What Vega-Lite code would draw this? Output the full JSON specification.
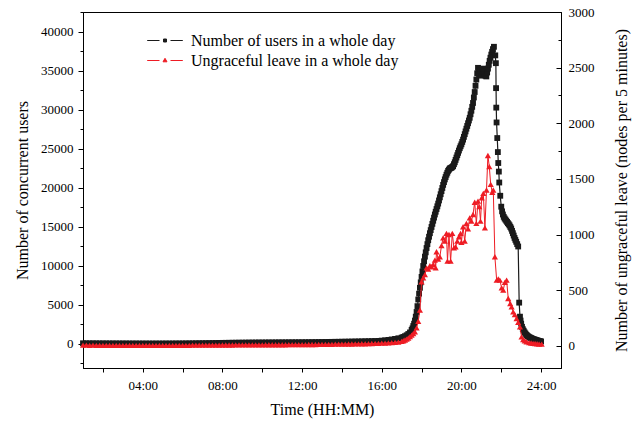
{
"$schema": "https://vega.github.io/schema/vega-lite/v6.json",
"width": 478, "height": 356,
"autosize": {"type": "none"},
"padding": {"left": 83, "top": 12, "right": 76, "bottom": 55},
"background": "white",
"config": {
  "view": {"stroke": "black", "strokeWidth": 1},
  "font": "Liberation Serif",
  "axis": {"labelFont": "Liberation Serif", "titleFont": "Liberation Serif", "labelFontSize": 13, "titleFontSize": 16, "titleFontWeight": "normal", "labelColor": "black", "titleColor": "black", "domainColor": "black", "tickColor": "black", "grid": false, "labelOverlap": false, "labelFlush": false}
},
"datasets": {
"users": [
{"t":1.0,"v":90},{"t":1.167,"v":88},{"t":1.333,"v":85},{"t":1.5,"v":84},{"t":1.667,"v":82},{"t":1.833,"v":80},
{"t":2.0,"v":78},{"t":2.167,"v":76},{"t":2.333,"v":75},{"t":2.5,"v":74},{"t":2.667,"v":72},{"t":2.833,"v":70},
{"t":3.0,"v":70},{"t":3.167,"v":68},{"t":3.333,"v":66},{"t":3.5,"v":65},{"t":3.667,"v":64},{"t":3.833,"v":62},
{"t":4.0,"v":62},{"t":4.167,"v":60},{"t":4.333,"v":60},{"t":4.5,"v":60},{"t":4.667,"v":60},{"t":4.833,"v":60},
{"t":5.0,"v":62},{"t":5.167,"v":63},{"t":5.333,"v":64},{"t":5.5,"v":66},{"t":5.667,"v":68},{"t":5.833,"v":70},
{"t":6.0,"v":72},{"t":6.167,"v":75},{"t":6.333,"v":80},{"t":6.5,"v":85},{"t":6.667,"v":90},{"t":6.833,"v":95},
{"t":7.0,"v":100},{"t":7.167,"v":105},{"t":7.333,"v":110},{"t":7.5,"v":118},{"t":7.667,"v":125},{"t":7.833,"v":132},
{"t":8.0,"v":140},{"t":8.167,"v":146},{"t":8.333,"v":152},{"t":8.5,"v":158},{"t":8.667,"v":163},{"t":8.833,"v":168},
{"t":9.0,"v":172},{"t":9.167,"v":176},{"t":9.333,"v":180},{"t":9.5,"v":184},{"t":9.667,"v":188},{"t":9.833,"v":190},
{"t":10.0,"v":192},{"t":10.167,"v":195},{"t":10.333,"v":198},{"t":10.5,"v":200},{"t":10.667,"v":203},{"t":10.833,"v":206},
{"t":11.0,"v":208},{"t":11.167,"v":210},{"t":11.333,"v":213},{"t":11.5,"v":216},{"t":11.667,"v":218},{"t":11.833,"v":220},
{"t":12.0,"v":222},{"t":12.167,"v":226},{"t":12.333,"v":230},{"t":12.5,"v":235},{"t":12.667,"v":240},{"t":12.833,"v":246},
{"t":13.0,"v":252},{"t":13.167,"v":258},{"t":13.333,"v":264},{"t":13.5,"v":270},{"t":13.667,"v":276},{"t":13.833,"v":282},
{"t":14.0,"v":290},{"t":14.167,"v":296},{"t":14.333,"v":303},{"t":14.5,"v":310},{"t":14.667,"v":318},{"t":14.833,"v":326},
{"t":15.0,"v":335},{"t":15.167,"v":345},{"t":15.333,"v":355},{"t":15.5,"v":366},{"t":15.667,"v":378},{"t":15.833,"v":392},
{"t":16.0,"v":430},{"t":16.167,"v":470},{"t":16.333,"v":520},{"t":16.5,"v":580},{"t":16.667,"v":650},{"t":16.833,"v":730},
{"t":17.0,"v":820},{"t":17.083,"v":900},{"t":17.167,"v":1000},{"t":17.25,"v":1120},{"t":17.333,"v":1280},{"t":17.417,"v":1480},
{"t":17.5,"v":1800},{"t":17.542,"v":2000},{"t":17.583,"v":2300},{"t":17.625,"v":2600},{"t":17.667,"v":3000},{"t":17.708,"v":3500},
{"t":17.75,"v":4100},{"t":17.792,"v":4850},{"t":17.833,"v":5700},{"t":17.875,"v":6450},{"t":17.917,"v":7200},{"t":17.958,"v":7900},
{"t":18.0,"v":8600},{"t":18.042,"v":9300},{"t":18.083,"v":10000},{"t":18.125,"v":10600},{"t":18.167,"v":11200},{"t":18.208,"v":11750},
{"t":18.25,"v":12300},{"t":18.292,"v":12800},{"t":18.333,"v":13300},{"t":18.375,"v":13750},{"t":18.417,"v":14200},{"t":18.458,"v":14600},
{"t":18.5,"v":15000},{"t":18.542,"v":15400},{"t":18.583,"v":15800},{"t":18.625,"v":16200},{"t":18.667,"v":16600},{"t":18.708,"v":16950},
{"t":18.75,"v":17300},{"t":18.792,"v":17650},{"t":18.833,"v":18000},{"t":18.875,"v":18400},{"t":18.917,"v":18800},{"t":18.958,"v":19200},
{"t":19.0,"v":19600},{"t":19.042,"v":20000},{"t":19.083,"v":20400},{"t":19.125,"v":20750},{"t":19.167,"v":21100},{"t":19.208,"v":21400},
{"t":19.25,"v":21700},{"t":19.292,"v":21950},{"t":19.333,"v":22200},{"t":19.375,"v":22350},{"t":19.417,"v":22500},{"t":19.458,"v":22550},
{"t":19.5,"v":22600},{"t":19.542,"v":22700},{"t":19.583,"v":22800},{"t":19.625,"v":23050},{"t":19.667,"v":23300},{"t":19.708,"v":23600},
{"t":19.75,"v":23900},{"t":19.792,"v":24200},{"t":19.833,"v":24500},{"t":19.875,"v":24800},{"t":19.917,"v":25100},{"t":19.958,"v":25350},
{"t":20.0,"v":25600},{"t":20.042,"v":25900},{"t":20.083,"v":26200},{"t":20.125,"v":26550},{"t":20.167,"v":26900},{"t":20.208,"v":27250},
{"t":20.25,"v":27600},{"t":20.292,"v":27950},{"t":20.333,"v":28300},{"t":20.375,"v":28650},{"t":20.417,"v":29000},{"t":20.458,"v":29450},
{"t":20.5,"v":29900},{"t":20.542,"v":30400},{"t":20.583,"v":30900},{"t":20.625,"v":31600},{"t":20.667,"v":32300},{"t":20.708,"v":33100},
{"t":20.75,"v":33900},{"t":20.792,"v":34700},{"t":20.833,"v":35400},{"t":20.875,"v":35000},{"t":20.917,"v":34600},
{"t":20.958,"v":35100},{"t":21.0,"v":34400},{"t":21.042,"v":34800},{"t":21.083,"v":35300},{"t":21.125,"v":34900},{"t":21.167,"v":34600},
{"t":21.208,"v":34400},{"t":21.25,"v":34300},{"t":21.292,"v":34800},{"t":21.333,"v":35300},{"t":21.375,"v":35800},
{"t":21.417,"v":36300},{"t":21.458,"v":36700},{"t":21.5,"v":37100},{"t":21.542,"v":37450},{"t":21.583,"v":37800},{"t":21.633,"v":38100},
{"t":21.7,"v":37000},{"t":21.73,"v":36000},
{"t":21.74,"v":32800},{"t":21.75,"v":30300},{"t":21.765,"v":28400},{"t":21.8,"v":26400},{"t":21.83,"v":24600},{"t":21.85,"v":23200},
{"t":21.88,"v":22100},{"t":21.9,"v":20700},{"t":21.95,"v":19000},{"t":22.0,"v":17600},{"t":22.042,"v":17000},{"t":22.083,"v":16600},
{"t":22.125,"v":16300},{"t":22.167,"v":16100},{"t":22.208,"v":15950},{"t":22.25,"v":15800},{"t":22.292,"v":15650},{"t":22.333,"v":15500},
{"t":22.375,"v":15350},{"t":22.417,"v":15200},{"t":22.458,"v":15000},{"t":22.5,"v":14800},{"t":22.542,"v":14500},{"t":22.583,"v":14200},
{"t":22.625,"v":13900},{"t":22.667,"v":13600},{"t":22.708,"v":13350},{"t":22.75,"v":13100},{"t":22.8,"v":12800},{"t":22.85,"v":12500},
{"t":22.9,"v":5300},{"t":22.94,"v":3500},{"t":22.97,"v":3000},{"t":23.0,"v":2600},{"t":23.042,"v":2200},{"t":23.083,"v":1900},
{"t":23.125,"v":1700},{"t":23.167,"v":1500},{"t":23.208,"v":1350},{"t":23.25,"v":1200},{"t":23.292,"v":1100},{"t":23.333,"v":1000},
{"t":23.375,"v":920},{"t":23.417,"v":850},{"t":23.458,"v":800},{"t":23.5,"v":750},{"t":23.542,"v":700},{"t":23.583,"v":650},{"t":23.625,"v":610},{"t":23.667,"v":570},{"t":23.708,"v":535},{"t":23.75,"v":500},
{"t":23.792,"v":465},{"t":23.833,"v":430},{"t":23.875,"v":400},{"t":23.917,"v":370},{"t":23.958,"v":345},{"t":24.0,"v":320}
],
"leave": [
{"t":1.0,"v":5},{"t":1.167,"v":5},{"t":1.333,"v":4},{"t":1.5,"v":5},{"t":1.667,"v":4},{"t":1.833,"v":4},
{"t":2.0,"v":4},{"t":2.167,"v":4},{"t":2.333,"v":4},{"t":2.5,"v":3},{"t":2.667,"v":4},{"t":2.833,"v":3},
{"t":3.0,"v":3},{"t":3.167,"v":3},{"t":3.333,"v":3},{"t":3.5,"v":3},{"t":3.667,"v":3},{"t":3.833,"v":3},
{"t":4.0,"v":3},{"t":4.167,"v":3},{"t":4.333,"v":3},{"t":4.5,"v":3},{"t":4.667,"v":3},{"t":4.833,"v":3},
{"t":5.0,"v":3},{"t":5.167,"v":3},{"t":5.333,"v":3},{"t":5.5,"v":3},{"t":5.667,"v":4},{"t":5.833,"v":4},
{"t":6.0,"v":4},{"t":6.167,"v":4},{"t":6.333,"v":4},{"t":6.5,"v":5},{"t":6.667,"v":5},{"t":6.833,"v":5},
{"t":7.0,"v":5},{"t":7.167,"v":5},{"t":7.333,"v":6},{"t":7.5,"v":6},{"t":7.667,"v":6},{"t":7.833,"v":6},
{"t":8.0,"v":7},{"t":8.167,"v":7},{"t":8.333,"v":7},{"t":8.5,"v":7},{"t":8.667,"v":8},{"t":8.833,"v":8},
{"t":9.0,"v":8},{"t":9.167,"v":8},{"t":9.333,"v":8},{"t":9.5,"v":8},{"t":9.667,"v":8},{"t":9.833,"v":8},
{"t":10.0,"v":8},{"t":10.167,"v":9},{"t":10.333,"v":9},{"t":10.5,"v":9},{"t":10.667,"v":9},{"t":10.833,"v":9},
{"t":11.0,"v":9},{"t":11.167,"v":9},{"t":11.333,"v":10},{"t":11.5,"v":10},{"t":11.667,"v":10},{"t":11.833,"v":10},
{"t":12.0,"v":10},{"t":12.167,"v":10},{"t":12.333,"v":11},{"t":12.5,"v":11},{"t":12.667,"v":11},{"t":12.833,"v":12},
{"t":13.0,"v":12},{"t":13.167,"v":12},{"t":13.333,"v":13},{"t":13.5,"v":13},{"t":13.667,"v":14},{"t":13.833,"v":14},
{"t":14.0,"v":15},{"t":14.167,"v":15},{"t":14.333,"v":16},{"t":14.5,"v":16},{"t":14.667,"v":17},{"t":14.833,"v":17},
{"t":15.0,"v":18},{"t":15.167,"v":18},{"t":15.333,"v":19},{"t":15.5,"v":20},{"t":15.667,"v":21},{"t":15.833,"v":22},
{"t":16.0,"v":23},{"t":16.167,"v":24},{"t":16.333,"v":26},{"t":16.5,"v":28},{"t":16.667,"v":30},{"t":16.833,"v":33},
{"t":17.0,"v":40},{"t":17.083,"v":45},{"t":17.167,"v":52},{"t":17.25,"v":60},{"t":17.333,"v":70},{"t":17.417,"v":82},
{"t":17.5,"v":95},{"t":17.583,"v":110},{"t":17.667,"v":125},{"t":17.75,"v":160},{"t":17.833,"v":220},{"t":17.917,"v":320},
{"t":18.0,"v":575},{"t":18.083,"v":610},{"t":18.167,"v":640},{"t":18.25,"v":700},{"t":18.333,"v":690},{"t":18.417,"v":720},
{"t":18.5,"v":710},{"t":18.583,"v":730},{"t":18.667,"v":770},{"t":18.708,"v":700},{"t":18.75,"v":845},{"t":18.833,"v":780},
{"t":18.917,"v":800},{"t":19.0,"v":900},{"t":19.083,"v":970},{"t":19.167,"v":940},{"t":19.25,"v":1010},{"t":19.3,"v":760},
{"t":19.375,"v":1000},{"t":19.458,"v":760},{"t":19.542,"v":1010},{"t":19.625,"v":880},{"t":19.708,"v":890},{"t":19.792,"v":940},
{"t":19.875,"v":980},{"t":19.958,"v":1010},{"t":20.0,"v":930},{"t":20.083,"v":1070},{"t":20.167,"v":940},{"t":20.25,"v":1100},
{"t":20.333,"v":1050},{"t":20.417,"v":1150},{"t":20.5,"v":1120},{"t":20.583,"v":1180},{"t":20.667,"v":1290},{"t":20.75,"v":1100},
{"t":20.833,"v":1300},{"t":20.9,"v":1250},{"t":20.958,"v":1120},{"t":21.02,"v":1330},{"t":21.1,"v":1370},{"t":21.18,"v":1060},
{"t":21.26,"v":1400},{"t":21.33,"v":1710},{"t":21.4,"v":1610},{"t":21.47,"v":1450},{"t":21.55,"v":1380},{"t":21.6,"v":1400},
{"t":21.68,"v":800},{"t":21.77,"v":590},{"t":21.85,"v":600},{"t":21.93,"v":590},{"t":22.02,"v":520},{"t":22.1,"v":500},
{"t":22.18,"v":570},{"t":22.27,"v":590},{"t":22.35,"v":425},{"t":22.45,"v":380},{"t":22.52,"v":350},{"t":22.6,"v":305},
{"t":22.68,"v":280},{"t":22.77,"v":245},{"t":22.85,"v":210},{"t":22.94,"v":170},{"t":23.02,"v":80},{"t":23.1,"v":55},
{"t":23.18,"v":45},{"t":23.27,"v":36},{"t":23.4,"v":28},{"t":23.5,"v":25},{"t":23.6,"v":22},{"t":23.7,"v":20},
{"t":23.8,"v":18},{"t":23.9,"v":16},{"t":24.03,"v":15}
]
},
"layer": [
{
 "data": {"name": "users"},
 "mark": {"type": "line", "strokeWidth": 1.2, "point": {"shape": "square", "size": 34, "filled": true}},
 "encoding": {
  "x": {"field": "t", "type": "quantitative", "scale": {"domain": [1, 25], "nice": false, "zero": false},
        "axis": {"title": "Time (HH:MM)", "values": [2,4,6,8,10,12,14,16,18,20,22,24],
                 "labelExpr": "datum.value % 4 === 0 ? (datum.value < 10 ? '0' : '') + datum.value + ':00' : ''",
                 "tickSize": 4, "labelPadding": 7, "titlePadding": 9}},
  "y": {"field": "v", "type": "quantitative", "scale": {"domain": [-3080, 42560], "nice": false, "zero": false},
        "axis": {"title": "Number of concurrent users", "orient": "left", "format": "d",
                 "values": [-2500,0,2500,5000,7500,10000,12500,15000,17500,20000,22500,25000,27500,30000,32500,35000,37500,40000,42500],
                 "labelExpr": "datum.value % 5000 === 0 ? datum.label : ''",
                 "tickSize": {"condition": {"test": "datum.value % 5000 !== 0", "value": 3}, "value": 5},
                 "labelPadding": 5, "titlePadding": 10}},
  "color": {"datum": "Number of users in a whole day", "type": "nominal",
            "scale": {"domain": ["Number of users in a whole day", "Ungraceful leave in a whole day"], "range": ["#1a1a1a", "#ee1c24"]},
            "legend": {"orient": "none", "legendX": 71.5, "legendY": 18, "title": null,
                       "labelFont": "Liberation Serif", "labelFontSize": 16, "labelColor": "black", "labelLimit": 0,
                       "symbolSize": 400, "labelOffset": 15.5, "rowPadding": 1, "padding": 0, "symbolStrokeWidth": 1,
                       "encode": {"symbols": {"update": {
                          "shape": {"signal": "datum.value === 'Number of users in a whole day' ? 'M-1.78,0H-0.55M0.55,0H1.78M-0.15,-0.15H0.15V0.15H-0.15Z' : 'M-1.78,0H-0.55M0.55,0H1.78M0,-0.22L0.2,0.13H-0.2Z'"},
                          "fill": {"scale": "color", "field": "value"},
                          "stroke": {"scale": "color", "field": "value"},
                          "opacity": {"value": 1}}}}}}
 }
},
{
 "data": {"name": "leave"},
 "mark": {"type": "line", "strokeWidth": 1, "point": {"shape": "triangle-up", "size": 38, "filled": true}},
 "encoding": {
  "x": {"field": "t", "type": "quantitative"},
  "y": {"field": "v", "type": "quantitative", "scale": {"domain": [-200, 3000], "nice": false, "zero": false},
        "axis": {"title": "Number of ungraceful leave (nodes per 5 minutes)", "orient": "right", "format": "d", "titleAngle": 270,
                 "values": [0,250,500,750,1000,1250,1500,1750,2000,2250,2500,2750,3000],
                 "labelExpr": "datum.value % 500 === 0 ? datum.label : ''",
                 "tickSize": {"condition": {"test": "datum.value % 500 !== 0", "value": -3}, "value": -5},
                 "labelPadding": 12, "titlePadding": 35}},
  "color": {"datum": "Ungraceful leave in a whole day", "type": "nominal"}
 }
}
],
"resolve": {"scale": {"y": "independent"}}
}
